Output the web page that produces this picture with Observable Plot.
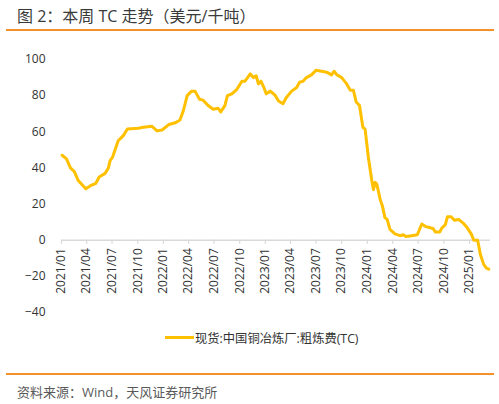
<!DOCTYPE html>
<html>
<head>
<meta charset="utf-8">
<script src="https://cdn.jsdelivr.net/npm/d3@7"></script>
<script src="https://cdn.jsdelivr.net/npm/@observablehq/plot@0.6"></script>
<style>
  body { margin: 0; background: #fff; }
  #wrap { position: relative; width: 499px; height: 404px; font-family: "Open Sans", "Noto Sans CJK SC", sans-serif; color: #333; }
  .rule { position: absolute; left: 6px; width: 488px; height: 2px; background: #f5902b; }
</style>
</head>
<body>
<div id="wrap">
  <div style="position:absolute;left:17px;top:3px;font-size:16px;color:#3a3a3a;">图 2：本周 TC 走势（美元/千吨）</div>
  <div class="rule" style="top:29px;"></div>
  <div id="chart" style="position:absolute;left:0;top:40px;"></div>
  <div style="position:absolute;left:165px;top:328px;font-size:12.3px;color:#333;white-space:nowrap;">
    <span style="display:inline-block;width:29px;height:3px;background:#FFC000;vertical-align:middle;margin-right:1px;"></span><span style="vertical-align:middle;">现货:中国铜冶炼厂:粗炼费(TC)</span>
  </div>
  <div class="rule" style="top:373px;"></div>
  <div style="position:absolute;left:17px;top:382px;font-size:13px;color:#595959;">资料来源：Wind，天风证券研究所</div>
</div>
<script>
// 周度数据
const dates = [
  "2021-01-03","2021-01-19","2021-02-02","2021-02-16","2021-03-02","2021-03-29","2021-04-19","2021-05-04",
  "2021-05-16","2021-06-06","2021-06-18","2021-06-24","2021-07-03","2021-07-23","2021-08-11","2021-08-25",
  "2021-10-03","2021-10-21","2021-11-21","2021-12-09","2021-12-27","2022-01-20","2022-02-13","2022-03-01",
  "2022-03-13","2022-03-27","2022-04-12","2022-04-24","2022-05-10","2022-05-23","2022-06-10","2022-06-28",
  "2022-07-16","2022-07-25","2022-08-09","2022-08-18","2022-09-03","2022-09-21","2022-10-09","2022-10-20",
  "2022-11-08","2022-11-19","2022-11-29","2022-12-07","2022-12-16","2022-12-28","2023-01-04","2023-01-19",
  "2023-02-06","2023-02-17","2023-03-05","2023-03-17","2023-04-05","2023-04-23","2023-05-04","2023-05-16",
  "2023-05-28","2023-06-15","2023-07-01","2023-07-21","2023-08-08","2023-08-26","2023-09-04","2023-09-14",
  "2023-10-01","2023-10-19","2023-11-01","2023-11-12","2023-11-22","2023-12-04","2023-12-16","2023-12-24",
  "2024-01-05","2024-01-17","2024-01-23","2024-01-29","2024-02-04","2024-02-16","2024-02-24","2024-03-04",
  "2024-03-12","2024-03-22","2024-04-09","2024-04-27","2024-05-09","2024-05-18","2024-06-08","2024-06-28",
  "2024-07-14","2024-07-29","2024-08-10","2024-08-23","2024-09-01","2024-09-16","2024-09-25","2024-10-06",
  "2024-10-14","2024-10-27","2024-11-08","2024-11-23","2024-12-09","2024-12-23","2025-01-07","2025-01-16",
  "2025-01-30","2025-02-09","2025-02-21","2025-03-03","2025-03-11"
]
const tc = [
  47, 45, 40, 38, 33, 28.5, 30.5, 31.5,
  35, 37, 40, 44, 46, 55, 58, 61.5,
  62, 62.5, 63, 60.5, 61, 64, 65, 66.5,
  71.5, 80, 82.5, 82.5, 78, 77.5, 74.5, 72.5,
  73, 71, 74.5, 80, 81, 83.5, 88, 88,
  92, 90, 91, 86.5, 88, 84, 81, 82.5,
  80, 77, 75.5, 79, 82.5, 84.5, 87.5, 88,
  90, 91.5, 94, 93.5, 93, 91.5, 93.5, 91.5,
  90, 86.5, 83, 83, 76.5, 74.5, 62.5, 61.5,
  45.5, 33, 28, 32, 31, 22.5, 19, 12.5,
  11.5, 6, 3.5, 2.5, 3, 2, 2.5, 3,
  9, 7.5, 7, 6.5, 4.5, 4.5, 7, 8.5,
  13, 13, 11, 11.5, 9.5, 7, 3.5, 0,
  0, -8, -13.5, -15.5, -16
]

const tickLabels = ["2021/01","2021/04","2021/07","2021/10","2022/01","2022/04","2022/07","2022/10",
  "2023/01","2023/04","2023/07","2023/10","2024/01","2024/04","2024/07","2024/10","2025/01"]
const yTicks = [-40, -20, 0, 20, 40, 60, 80, 100]

const data = dates.map((d, i) => ({date: new Date(d), tc: tc[i]}))
const xTicks = tickLabels.map(s => ({date: new Date(s.replace("/", "-") + "-01"), label: s}))

let chart = Plot.plot({
  width: 499,
  height: 282,
  marginLeft: 61,
  marginRight: 9,
  marginTop: 19,
  marginBottom: 10,
  x: {type: 'utc', domain: [new Date("2021-01-01"), new Date("2025-03-17")], axis: null},
  y: {domain: [-40, 100], axis: null},
  marks: [
    Plot.axisY({ticks: yTicks, tickSize: 0, tickPadding: 16, label: null}),
    Plot.ruleY([0], {stroke: '#d9d9d9', strokeWidth: 1.5}),
    Plot.ruleX(xTicks, {x: 'date', y1: 0, y2: -2.3, stroke: '#d9d9d9', strokeWidth: 1.2}),
    Plot.text(xTicks, {x: 'date', y: 0, text: 'label', rotate: -90, textAnchor: 'end', dy: 8, fill: '#333'}),
    Plot.line(data, {x: 'date', y: 'tc', stroke: '#FFC000', strokeWidth: 3, strokeLinejoin: 'round'})
  ],
  style: {
    fontFamily: '"Open Sans", "Noto Sans CJK SC", sans-serif',
    fontSize: '12px',
    color: '#333',
    background: 'transparent'
  }
})

d3.select('#chart').append(() => chart)
</script>
</body>
</html>
